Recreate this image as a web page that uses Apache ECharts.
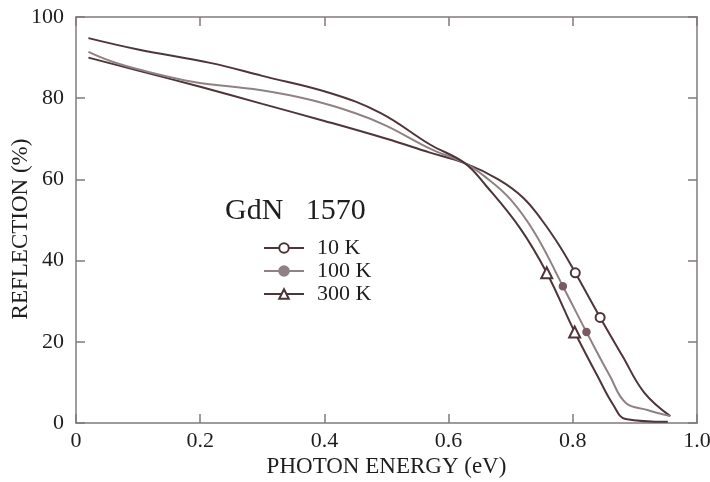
<!DOCTYPE html>
<html>
<head>
<meta charset="utf-8">
<title>GdN 1570 reflection</title>
<style>
  html, body { margin: 0; padding: 0; background: #fff; }
  #main { width: 710px; height: 482px; }
</style>
<script src="https://cdn.jsdelivr.net/npm/echarts@6/dist/echarts.min.js"></script>
</head>
<body>
<div id="main"></div>
<script>
// curves: [photon energy (eV), reflection (%)]
var curve10K = [[0.02, 90], [0.1, 86.8], [0.2, 82.8], [0.3, 78.6], [0.4, 74.4], [0.5, 70], [0.57, 66.6],
  [0.626, 64], [0.68, 60], [0.72, 55.5], [0.75, 50], [0.78, 43.3], [0.804, 37], [0.844, 26],
  [0.88, 16.5], [0.915, 7.5], [0.957, 1.7]];
var curve100K = [[0.02, 91.4], [0.06, 88.9], [0.108, 86.8], [0.19, 84], [0.296, 82], [0.377, 79.6],
  [0.45, 76.3], [0.5, 73.2], [0.57, 67.6], [0.626, 64], [0.66, 60.5], [0.7, 55], [0.74, 46.5],
  [0.784, 33.7], [0.822, 22.4], [0.86, 11.5], [0.885, 5], [0.92, 3.2], [0.957, 1.7]];
var curve300K = [[0.02, 94.8], [0.1, 92], [0.216, 88.7], [0.3, 85.5], [0.409, 81.3], [0.49, 76.4],
  [0.57, 68.6], [0.626, 64], [0.66, 58.5], [0.715, 48], [0.758, 37],
  [0.803, 22.4], [0.84, 11.5], [0.865, 4.5], [0.885, 1], [0.953, 0.3]];

// plotted symbols on each curve
var marks10K = [[0.804, 37], [0.844, 26]];
var marks100K = [[0.784, 33.7], [0.822, 22.4]];
var marks300K = [[0.758, 37], [0.803, 22.4]];

var seriesNames = ['10 K', '100 K', '300 K'];
var xTicks = ['0', '0.2', '0.4', '0.6', '0.8', '1.0'];

var dark = '#4e3539', grey = '#8f8184', frame = '#807a7c';
var serif = 'Liberation Serif';

var myChart = echarts.init(document.getElementById('main'));

function frameAxis(type, pos, labels) {
  var ax = {
    type: 'value', position: pos, min: 0,
    max: type === 'x' ? 1 : 100, interval: type === 'x' ? 0.2 : 20,
    axisLine: { show: true, onZero: false, lineStyle: { color: frame, width: 1.5 } },
    axisTick: { show: true, inside: true, length: 9, lineStyle: { color: frame, width: 1.5 } },
    splitLine: { show: false },
    axisLabel: { show: false }
  };
  if (labels) {
    ax.axisLabel = {
      show: true, color: '#1e1e1e', fontFamily: serif, fontSize: 22,
      margin: type === 'x' ? 7 : 12,
      formatter: type === 'x' ? function (v) { return xTicks[Math.round(v / 0.2)]; } : null
    };
  }
  return ax;
}

var xMain = frameAxis('x', 'bottom', true);
xMain.name = 'PHOTON ENERGY (eV)';
xMain.nameLocation = 'middle';
xMain.nameGap = 32;
xMain.nameMoveOverlap = false;
xMain.nameTextStyle = { color: '#1e1e1e', fontFamily: serif, fontSize: 23 };

var yMain = frameAxis('y', 'left', true);
yMain.name = 'REFLECTION (%)';
yMain.nameLocation = 'middle';
yMain.nameGap = 44;
yMain.nameMoveOverlap = false;
yMain.nameTextStyle = { color: '#1e1e1e', fontFamily: serif, fontSize: 23, padding: [0, 18, 0, 0] };

function curve(name, data, color, symbol, size) {
  return {
    name: name, type: 'line', data: data, smooth: 0.4,
    symbol: symbol, symbolSize: size, showSymbol: false,
    itemStyle: { color: color, borderColor: color, borderWidth: 1.5 },
    lineStyle: { color: color, width: 2 }
  };
}

function marks(data, color, symbol, size) {
  return {
    type: 'scatter', data: data, symbol: symbol, symbolSize: size, z: 5,
    itemStyle: { color: color, borderColor: color, borderWidth: 1.5, opacity: 1 }
  };
}

var option = {
  animation: false,
  backgroundColor: '#fff',
  title: {
    text: 'GdN   1570', left: 220, top: 191,
    textStyle: { color: '#1e1e1e', fontFamily: serif, fontSize: 30, fontWeight: 'normal' }
  },
  legend: {
    data: seriesNames, orient: 'vertical', left: 258, top: 232, itemGap: 1,
    itemWidth: 40, itemHeight: 12,
    textStyle: { color: '#1e1e1e', fontFamily: serif, fontSize: 22, padding: [0, 0, 0, 8] }
  },
  grid: { left: 76, right: 13, top: 17, bottom: 59, outerBoundsMode: 'none' },
  xAxis: [xMain, frameAxis('x', 'top', false)],
  yAxis: [yMain, frameAxis('y', 'right', false)],
  series: [
    curve(seriesNames[0], curve10K, dark, 'emptyCircle', 9),
    curve(seriesNames[1], curve100K, grey, 'circle', 7),
    curve(seriesNames[2], curve300K, dark, 'emptyTriangle', 11),
    marks(marks10K, dark, 'emptyCircle', 9),
    marks(marks100K, '#7a5a62', 'circle', 7),
    marks(marks300K, dark, 'emptyTriangle', 11)
  ]
};

myChart.setOption(option);
</script>
</body>
</html>
